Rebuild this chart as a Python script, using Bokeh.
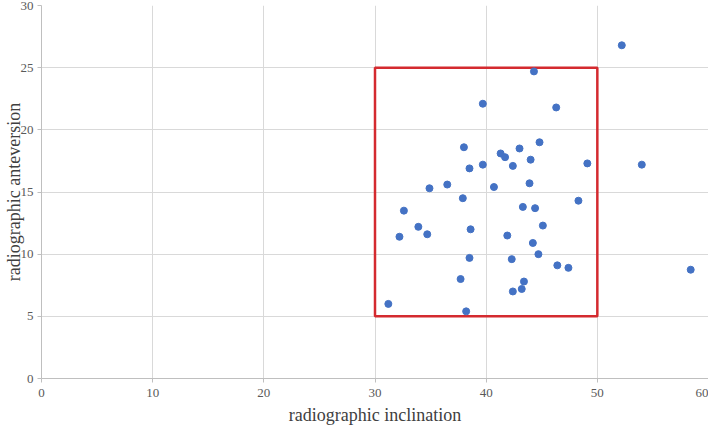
from bokeh.plotting import figure
from bokeh.embed import file_html
from bokeh.resources import INLINE
from bokeh.models import FixedTicker, Range1d, ColumnDataSource

inclination = [44.3, 39.7, 46.3, 44.8, 38.0, 43.0, 41.3, 41.7, 44.0, 49.1,
               39.7, 38.5, 42.4, 36.5, 34.9, 40.7, 43.9, 37.9, 48.3, 32.6,
               43.3, 44.4, 45.1, 33.9, 38.6, 32.2, 34.7, 41.9, 44.2, 44.7,
               38.5, 42.3, 46.4, 47.4, 37.7, 43.4, 43.2, 42.4, 31.2, 38.2,
               52.2, 54.0, 58.4]
anteversion = [24.7, 22.1, 21.8, 19.0, 18.6, 18.5, 18.1, 17.8, 17.6, 17.3,
               17.2, 16.9, 17.1, 15.6, 15.3, 15.4, 15.7, 14.5, 14.3, 13.5,
               13.8, 13.7, 12.3, 12.2, 12.0, 11.4, 11.6, 11.5, 10.9, 10.0,
               9.7, 9.6, 9.1, 8.9, 8.0, 7.8, 7.2, 7.0, 6.0, 5.4,
               26.8, 17.2, 8.75]

safe_zone_x = [30, 50]
safe_zone_y = [5, 25]
x_ticks = [0, 10, 20, 30, 40, 50, 60]
y_ticks = [0, 5, 10, 15, 20, 25, 30]

FONT = "Liberation Serif"

p = figure(width=708, height=427, output_backend="svg", toolbar_location=None,
           x_range=Range1d(0, 60), y_range=Range1d(0, 30),
           min_border_left=30, min_border_right=0, min_border_top=5, min_border_bottom=30)
p.outline_line_color = None
p.background_fill_color = "white"

for ax in (p.xaxis[0], p.yaxis[0]):
    ax.axis_line_color = "#bfbfbf"
    ax.major_tick_line_color = "#bfbfbf"
    ax.major_tick_out = 4
    ax.major_tick_in = 0
    ax.minor_tick_line_color = None
    ax.major_label_text_font = FONT
    ax.major_label_text_font_size = "13px"
    ax.major_label_text_color = "#595959"
    ax.axis_label_text_font = FONT
    ax.axis_label_text_font_style = "normal"
    ax.axis_label_text_font_size = "18px"
    ax.axis_label_text_color = "#404040"

p.xaxis[0].major_label_standoff = 6
p.xaxis[0].axis_label_standoff = 5
p.yaxis[0].major_label_standoff = 4
p.yaxis[0].axis_label_standoff = -6

p.xaxis[0].ticker = FixedTicker(ticks=x_ticks)
p.yaxis[0].ticker = FixedTicker(ticks=y_ticks)
p.xaxis[0].axis_label = "radiographic inclination"
p.yaxis[0].axis_label = "radiographic anteversion"

p.xgrid.ticker = FixedTicker(ticks=x_ticks)
p.ygrid.ticker = FixedTicker(ticks=y_ticks)
p.xgrid.grid_line_color = "#d9d9d9"
p.ygrid.grid_line_color = "#d9d9d9"

p.quad(left=[safe_zone_x[0]], right=[safe_zone_x[1]], bottom=[safe_zone_y[0]], top=[safe_zone_y[1]],
       fill_color=None, line_color="#d42a2f", line_width=2.5)

src = ColumnDataSource(dict(x=inclination, y=anteversion))
p.scatter("x", "y", source=src, size=7, fill_color="#4472c4", line_color="#4472c4")

open("out.html", "w").write(file_html(p, INLINE))
